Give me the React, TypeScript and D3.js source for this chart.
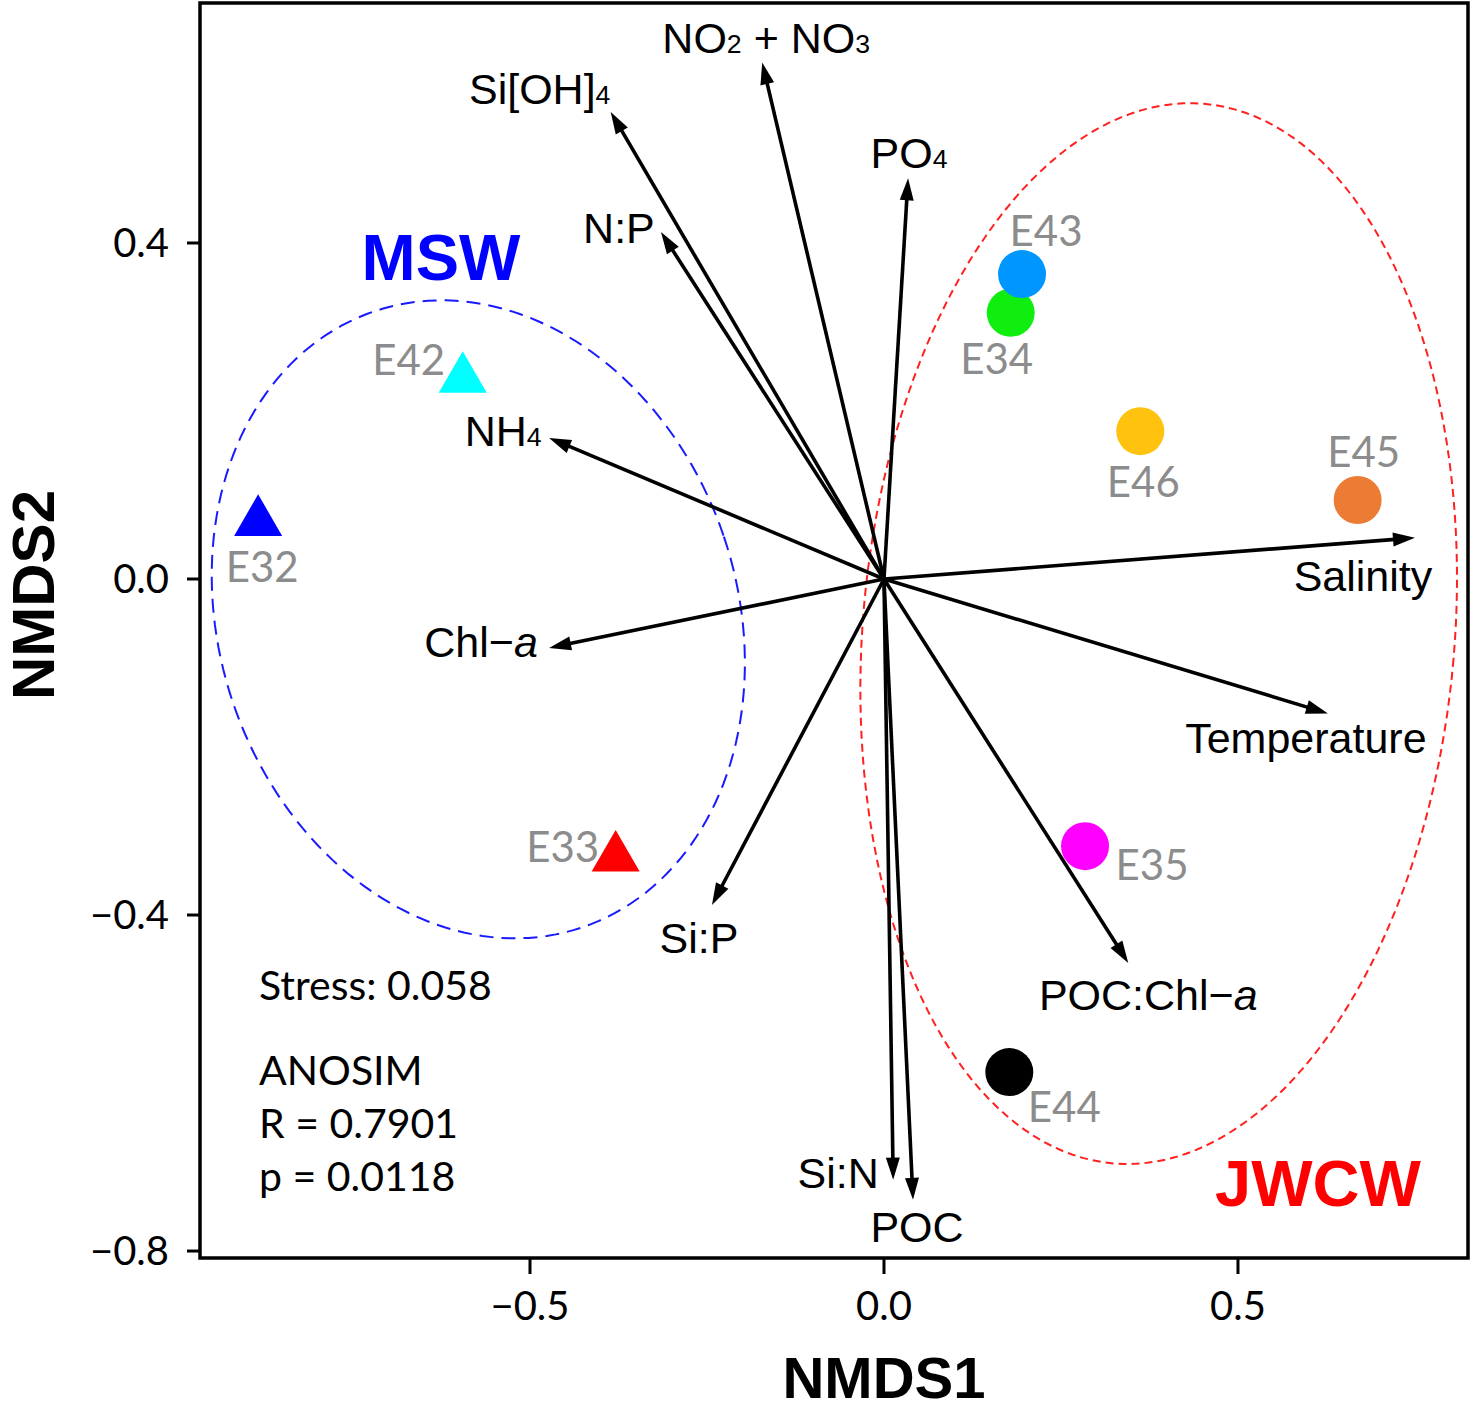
import React from 'react';
import * as d3 from 'd3';

// environmental fitted vectors (NMDS1, NMDS2 of arrow tips)
const vectorNames = ['NO2+NO3', 'Si[OH]4', 'PO4', 'N:P', 'NH4', 'Salinity', 'Chl-a', 'Temperature', 'Si:P', 'POC:Chl-a', 'Si:N', 'POC'];
const vectorX = [-0.172, -0.386, 0.034, -0.315, -0.473, 0.75, -0.473, 0.627, -0.243, 0.345, 0.013, 0.041];
const vectorY = [0.615, 0.556, 0.477, 0.413, 0.168, 0.049, -0.082, -0.16, -0.388, -0.457, -0.715, -0.739];

// stations
const siteNames = ['E34', 'E43', 'E46', 'E45', 'E35', 'E44', 'E42', 'E32', 'E33'];
const siteX = [0.179, 0.195, 0.362, 0.669, 0.284, 0.177, -0.595, -0.884, -0.379];
const siteY = [0.317, 0.363, 0.176, 0.094, -0.318, -0.587, 0.243, 0.0726, -0.327];
const siteGroup = ['JWCW', 'JWCW', 'JWCW', 'JWCW', 'JWCW', 'JWCW', 'MSW', 'MSW', 'MSW'];

const xTicks = [-0.5, 0, 0.5];
const yTicks = [-0.8, -0.4, 0, 0.4];

// group ellipses: centre (data units), semi-axes (x-units, y-units), tilt in degrees
const groupNames = ['MSW', 'JWCW'];
const ellCx = [-0.573, 0.388];
const ellCy = [-0.048, -0.065];
const ellA = [0.366, 0.418];
const ellB = [0.387, 0.633];
const ellRot = [-18.6, 4.9];

const stats = ['Stress: 0.058', 'ANOSIM', 'R = 0.7901', 'p = 0.0118'];

// ---- styling / layout below ----
const siteColor: Record<string, string> = {
  E34: '#10ee10', E43: '#0096ff', E46: '#ffc20e', E45: '#ec7c33', E35: '#ff00ff',
  E44: '#000000', E42: '#00ffff', E32: '#0000ff', E33: '#ff0000',
};
// label offsets from marker centre (px): dx (centre of text), dy (baseline)
const siteLabelOff: Record<string, [number, number]> = {
  E43: [24, -28], E34: [-14, 61], E46: [3, 66], E45: [6, -33], E35: [67, 34],
  E44: [55, 50], E42: [-54, 0], E32: [4, 64], E33: [-53, 8],
};
const vecLabelOff: Record<string, [number, number]> = {
  'NO2+NO3': [4, -9], 'Si[OH]4': [-71, -8], PO4: [1, -10], 'N:P': [-42, 11],
  NH4: [-46, 8], Salinity: [-52, 53], 'Chl-a': [-68, 9], Temperature: [-22, 40],
  'Si:P': [-13, 48], 'POC:Chl-a': [20, 47], 'Si:N': [-55, 8], POC: [4, 42],
};
const groupStyle: Record<string, { color: string; dash: string }> = {
  MSW: { color: '#1a1aff', dash: '14 8' },
  JWCW: { color: '#ff2020', dash: '8 5' },
};

const W = 1476;
const H = 1409;
const L = 200, R = 1468, T = 3, B = 1258;

const xScale = d3.scaleLinear().domain([-0.9661, 0.8249]).range([L, R]);
const yScale = d3.scaleLinear().domain([-0.8083, 0.6857]).range([B, T]);

const fmt = (v: number) => (v < 0 ? '\u2212' : '') + Math.abs(v).toFixed(1);

const ARIAL = '"Liberation Sans", Arial, sans-serif';
const SOFT = 'Lato, "Open Sans", sans-serif';

function VecLabel({ name }: { name: string }) {
  const sub = { fontSize: '0.62em' } as React.CSSProperties;
  switch (name) {
    case 'NO2+NO3':
      return <>NO<tspan style={sub}>2</tspan> + NO<tspan style={sub}>3</tspan></>;
    case 'Si[OH]4':
      return <>Si[OH]<tspan style={sub}>4</tspan></>;
    case 'PO4':
      return <>PO<tspan style={sub}>4</tspan></>;
    case 'NH4':
      return <>NH<tspan style={sub}>4</tspan></>;
    case 'Chl-a':
      return <>Chl{'\u2212'}<tspan fontStyle="italic">a</tspan></>;
    case 'POC:Chl-a':
      return <>POC:Chl{'\u2212'}<tspan fontStyle="italic">a</tspan></>;
    default:
      return <>{name}</>;
  }
}

function ellipsePath(i: number) {
  const cx = xScale(ellCx[i]);
  const cy = yScale(ellCy[i]);
  const a = Math.abs(xScale(ellA[i]) - xScale(0));
  const b = Math.abs(yScale(ellB[i]) - yScale(0));
  const th = (ellRot[i] * Math.PI) / 180;
  const pts: [number, number][] = d3.range(0, 361, 2).map((deg) => {
    const t = (deg * Math.PI) / 180;
    const ex = a * Math.cos(t);
    const ey = b * Math.sin(t);
    return [cx + ex * Math.cos(th) - ey * Math.sin(th), cy + ex * Math.sin(th) + ey * Math.cos(th)];
  });
  return d3.line()(pts) || '';
}

export default function App() {
  const ox = xScale(0);
  const oy = yScale(0);
  const headLen = 22;
  const headHalf = 7;

  return (
    <div style={{ position: 'absolute', left: 0, top: 0 }}>
      <svg width={W} height={H} style={{ display: 'block', background: '#fff' }}>
        {/* ellipses */}
        {groupNames.map((g, i) => (
          <path key={g} d={ellipsePath(i)} fill="none" stroke={groupStyle[g].color}
            strokeWidth={2} strokeDasharray={groupStyle[g].dash} />
        ))}

        {/* vectors */}
        {vectorNames.map((n, i) => {
          const tx = xScale(vectorX[i]);
          const ty = yScale(vectorY[i]);
          const len = Math.hypot(tx - ox, ty - oy);
          const ux = (tx - ox) / len;
          const uy = (ty - oy) / len;
          const bx = tx - ux * headLen;
          const by = ty - uy * headLen;
          const head = `M${tx},${ty}L${bx - uy * headHalf},${by + ux * headHalf}L${bx + uy * headHalf},${by - ux * headHalf}Z`;
          return (
            <g key={n}>
              <line x1={ox} y1={oy} x2={bx + ux * 2} y2={by + uy * 2} stroke="#000" strokeWidth={3.6} />
              <path d={head} fill="#000" />
            </g>
          );
        })}

        {/* vector labels */}
        {vectorNames.map((n, i) => (
          <text key={n} x={xScale(vectorX[i]) + vecLabelOff[n][0]} y={yScale(vectorY[i]) + vecLabelOff[n][1]}
            textAnchor="middle" fontFamily={ARIAL} fontSize={43} fill="#000">
            <VecLabel name={n} />
          </text>
        ))}

        {/* sites */}
        {siteNames.map((s, i) => {
          const cx = xScale(siteX[i]);
          const cy = yScale(siteY[i]);
          if (siteGroup[i] === 'MSW') {
            const sym = d3.symbol().type(d3.symbolTriangle).size(1000)();
            return <path key={s} d={sym || ''} transform={`translate(${cx},${cy + 4})`} fill={siteColor[s]} />;
          }
          return <circle key={s} cx={cx} cy={cy} r={24} fill={siteColor[s]} />;
        })}
        {siteNames.map((s, i) => (
          <text key={s} x={xScale(siteX[i]) + siteLabelOff[s][0]} y={yScale(siteY[i]) + siteLabelOff[s][1]}
            textAnchor="middle" fontFamily={SOFT} fontSize={42} fill="#8c8c8c">
            {s}
          </text>
        ))}

        {/* group names */}
        <text x={441} y={280} textAnchor="middle" fontFamily={ARIAL} fontWeight="bold" fontSize={65} fill="#0000ff">MSW</text>
        <text x={1318} y={1206} textAnchor="middle" fontFamily={ARIAL} fontWeight="bold" fontSize={65} fill="#ff0000">JWCW</text>

        {/* stats */}
        {stats.map((s, i) => (
          <text key={s} x={259} y={[1000, 1085, 1138, 1191][i]} fontFamily={SOFT} fontSize={41} fill="#000">{s}</text>
        ))}

        {/* frame */}
        <rect x={L} y={T} width={R - L} height={B - T} fill="none" stroke="#000" strokeWidth={3.5} />

        {/* x axis */}
        {xTicks.map((t) => (
          <g key={t}>
            <line x1={xScale(t)} x2={xScale(t)} y1={B} y2={B + 16} stroke="#000" strokeWidth={3} />
            <text x={xScale(t)} y={1320} textAnchor="middle" fontFamily={SOFT} fontSize={40} fill="#000">{fmt(t)}</text>
          </g>
        ))}
        {/* y axis */}
        {yTicks.map((t) => (
          <g key={t}>
            <line x1={L - 13} x2={L} y1={yScale(t)} y2={yScale(t)} stroke="#000" strokeWidth={3} />
            <text x={169} y={yScale(t)} dy="0.35em" textAnchor="end" fontFamily={SOFT} fontSize={40} fill="#000">{fmt(t)}</text>
          </g>
        ))}

        <text x={884} y={1398} textAnchor="middle" fontFamily={ARIAL} fontWeight="bold" fontSize={58} fill="#000">NMDS1</text>
        <text transform={`translate(54,595) rotate(-90)`} textAnchor="middle" fontFamily={ARIAL} fontWeight="bold" fontSize={60} fill="#000">NMDS2</text>
      </svg>
    </div>
  );
}
